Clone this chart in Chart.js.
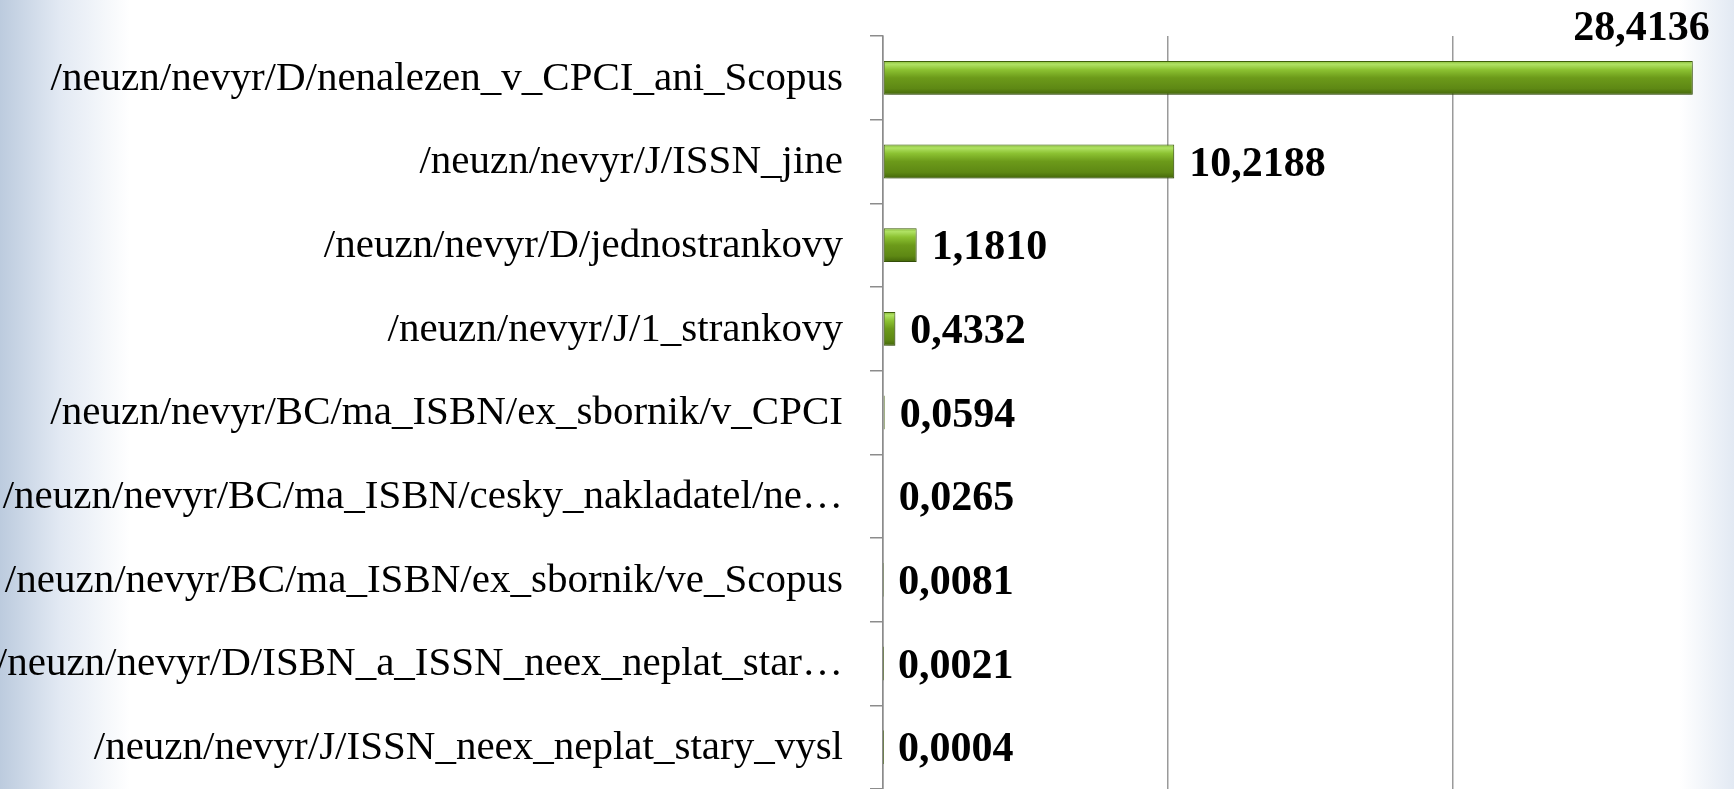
<!DOCTYPE html>
<html lang="cs">
<head>
    <meta charset="UTF-8">
    <title>neuzn / nevyr</title>
    <script src="https://cdn.jsdelivr.net/npm/chart.js"></script>
    <style>
        html, body {
            margin: 0;
            padding: 0;
            width: 1734px;
            height: 789px;
            overflow: hidden;
            background: linear-gradient(to right,
                rgb(188, 203, 222) 0px,
                rgb(226, 233, 243) 60px,
                #ffffff 130px,
                #ffffff 1680px,
                rgb(226, 233, 243) 1734px);
        }
        .chart-container {
            position: relative;
            width: 1734px;
            height: 789px;
        }
    </style>
</head>
<body>
    <div class="chart-container">
        <canvas id="myChart"></canvas>
    </div>

    <script>
        const categories = [
            '/neuzn/nevyr/D/nenalezen_v_CPCI_ani_Scopus',
            '/neuzn/nevyr/J/ISSN_jine',
            '/neuzn/nevyr/D/jednostrankovy',
            '/neuzn/nevyr/J/1_strankovy',
            '/neuzn/nevyr/BC/ma_ISBN/ex_sbornik/v_CPCI',
            '/neuzn/nevyr/BC/ma_ISBN/cesky_nakladatel/ne\u2026',
            '/neuzn/nevyr/BC/ma_ISBN/ex_sbornik/ve_Scopus',
            '/neuzn/nevyr/D/ISBN_a_ISSN_neex_neplat_star\u2026',
            '/neuzn/nevyr/J/ISSN_neex_neplat_stary_vysl'
        ];
        const values = [28.4136, 10.2188, 1.1810, 0.4332, 0.0594, 0.0265, 0.0081, 0.0021, 0.0004];
        const gridTicks = [0, 10, 20];

        const FONT = "'Liberation Serif', 'Times New Roman', serif";
        const BAR_FRACTION = 0.405;

        function fmt(v) {
            return v.toFixed(4).replace('.', ',');
        }

        // green glossy gradient per bar, built from the y scale
        function barFill(c) {
            const chart = c.chart;
            const y = chart.scales && chart.scales.y;
            if (!y || !chart.chartArea) return '#6a9a1a';
            const yc = y.getPixelForValue(c.dataIndex);
            const h = (chart.chartArea.height / categories.length) * BAR_FRACTION;
            const g = chart.ctx.createLinearGradient(0, yc - h / 2, 0, yc + h / 2);
            g.addColorStop(0, '#86ba38');
            g.addColorStop(0.1, '#b0e264');
            g.addColorStop(0.26, '#8cc232');
            g.addColorStop(0.5, '#6c9a1a');
            g.addColorStop(0.82, '#5e8814');
            g.addColorStop(1, '#436609');
            return g;
        }

        const barShadow = {
            id: 'barShadow',
            beforeDatasetsDraw(chart) {
                const ctx = chart.ctx;
                ctx.save();
                ctx.shadowColor = 'rgba(0,0,0,0.25)';
                ctx.shadowBlur = 5;
                ctx.shadowOffsetX = 2;
                ctx.shadowOffsetY = 3;
            },
            afterDatasetsDraw(chart) {
                chart.ctx.restore();
            }
        };

        const valueLabels = {
            id: 'valueLabels',
            afterDraw(chart) {
                const ctx = chart.ctx;
                const meta = chart.getDatasetMeta(0);
                ctx.save();
                ctx.font = 'bold 42px ' + FONT;
                ctx.fillStyle = '#000';
                ctx.textBaseline = 'alphabetic';
                meta.data.forEach((bar, i) => {
                    const txt = fmt(values[i]);
                    const w = ctx.measureText(txt).width;
                    const x = bar.x + 15;
                    if (x + w > chart.width - 4) {
                        // no room on the right: put it above the bar end
                        ctx.textAlign = 'right';
                        ctx.fillText(txt, bar.x + 17, bar.y - bar.height / 2 - 21);
                    } else {
                        ctx.textAlign = 'left';
                        ctx.fillText(txt, x, bar.y + 14);
                    }
                });
                ctx.restore();
            }
        };

        const ctx = document.getElementById('myChart').getContext('2d');
        const myChart = new Chart(ctx, {
            type: 'bar',
            data: {
                labels: categories,
                datasets: [{
                    data: values,
                    backgroundColor: barFill,
                    borderColor: '#3f5f0a',
                    borderWidth: 1,
                    borderSkipped: false,
                    barPercentage: 0.5,
                    categoryPercentage: 0.81
                }]
            },
            options: {
                indexAxis: 'y',
                responsive: true,
                maintainAspectRatio: false,
                animation: false,
                layout: {
                    padding: { top: 36, right: 0, bottom: -3, left: 0 }
                },
                plugins: {
                    legend: { display: false },
                    tooltip: { enabled: false }
                },
                scales: {
                    x: {
                        min: 0,
                        max: 29.86,
                        afterBuildTicks(scale) {
                            scale.ticks = gridTicks.map(v => ({ value: v }));
                        },
                        afterFit(scale) {
                            scale.height = 0;
                            scale.paddingLeft = 0;
                            scale.paddingRight = 0;
                        },
                        ticks: { display: false },
                        border: { display: false },
                        grid: {
                            color: '#9a9a9a',
                            lineWidth: 1.5,
                            drawTicks: false
                        }
                    },
                    y: {
                        afterFit(scale) {
                            scale.width = 883;
                            scale.paddingTop = 0;
                            scale.paddingBottom = 0;
                        },
                        ticks: {
                            color: '#000',
                            padding: 27,
                            labelOffset: 1,
                            font: { family: FONT, size: 41 }
                        },
                        border: { color: '#8c8c8c', width: 1.5 },
                        grid: {
                            offset: true,
                            drawOnChartArea: false,
                            tickLength: 13,
                            color: '#8c8c8c',
                            lineWidth: 1.5
                        }
                    }
                }
            },
            plugins: [barShadow, valueLabels]
        });
    </script>
</body>
</html>
